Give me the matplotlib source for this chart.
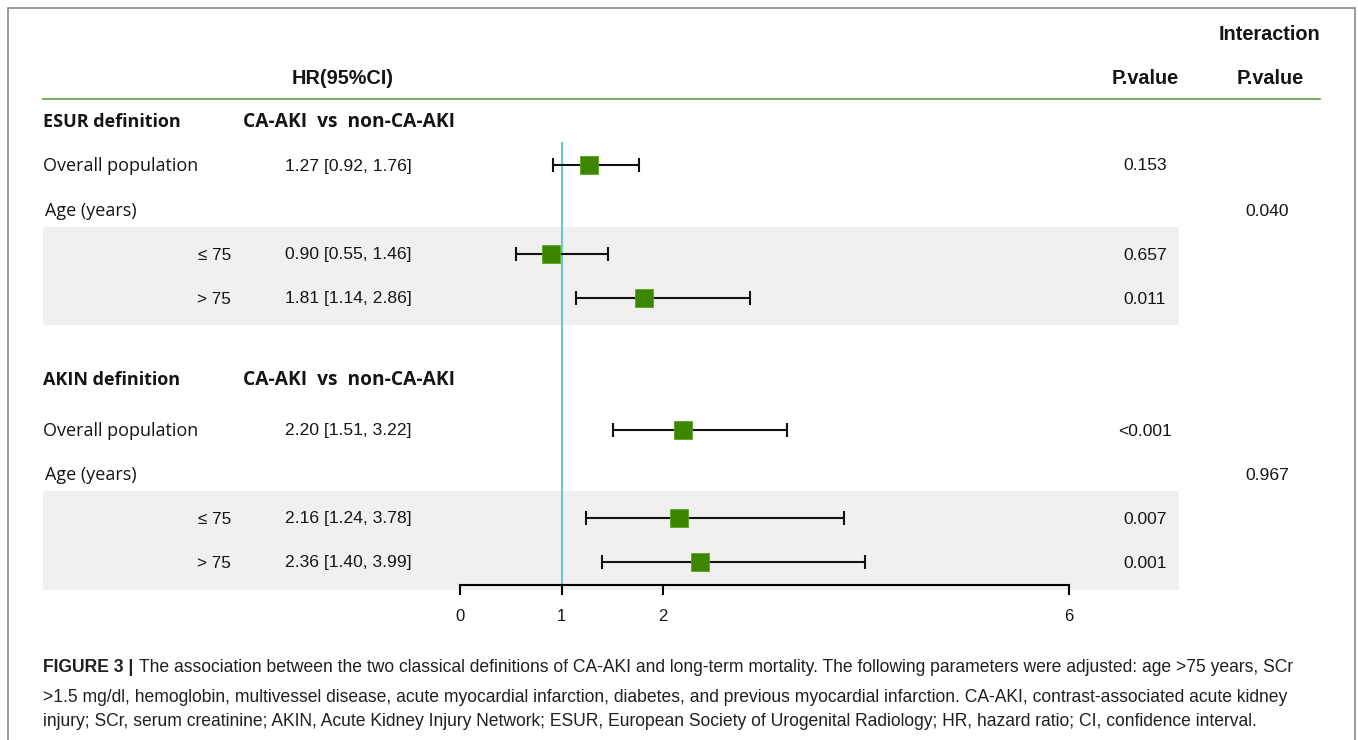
import matplotlib
matplotlib.use("Agg")
import matplotlib.pyplot as plt

# ---- data ----
row_labels = ["Overall population", "Age (years)", "≤ 75", "> 75"]
group_titles = ["ESUR definition", "AKIN definition"]
comparison = "CA-AKI  vs  non-CA-AKI"

hr = [[1.27, None, 0.90, 1.81], [2.20, None, 2.16, 2.36]]
ci_low = [[0.92, None, 0.55, 1.14], [1.51, None, 1.24, 1.40]]
ci_high = [[1.76, None, 1.46, 2.86], [3.22, None, 3.78, 3.99]]
p_values = [["0.153", "", "0.657", "0.011"], ["<0.001", "", "0.007", "0.001"]]
p_interaction = ["0.040", "0.967"]
x_ticks = [0, 1, 2, 6]

caption_bold = "FIGURE 3 |"
caption_lines = [
    "The association between the two classical definitions of CA-AKI and long-term mortality. The following parameters were adjusted: age >75 years, SCr",
    ">1.5 mg/dl, hemoglobin, multivessel disease, acute myocardial infarction, diabetes, and previous myocardial infarction. CA-AKI, contrast-associated acute kidney",
    "injury; SCr, serum creatinine; AKIN, Acute Kidney Injury Network; ESUR, European Society of Urogenital Radiology; HR, hazard ratio; CI, confidence interval.",
]

# ---- layout (pixels) ----
W, H = 1358, 740
group_top = [121, 379]
row_offsets = [44, 89, 133, 177]
row_offsets_akin = [51, 95, 139, 183]
band_spans = [(227, 325), (491, 590)]
LABEL_FONT = ["Open Sans", "DejaVu Sans"]
NUM_FONT = ["Liberation Sans", "DejaVu Sans"]
CAP_FONT = ["Liberation Sans Narrow", "Liberation Sans", "DejaVu Sans"]
GREEN = "#3d8700"
TXT = "#151515"

fig = plt.figure(figsize=(W / 100, H / 100), dpi=100)
ax_bg = fig.add_axes([0, 0, 1, 1])
ax_bg.set_xlim(0, W)
ax_bg.set_ylim(H, 0)
ax_bg.axis("off")

# frame
ax_bg.plot([8, 8, 1355, 1355], [H + 5, 8, 8, H + 5], color="#8a8a8a", lw=1.2,
           solid_joinstyle="miter")

# shaded bands for the age subgroups
for y0, y1 in band_spans:
    ax_bg.axhspan(y0, y1, xmin=43 / W, xmax=1179 / W, color="#f0f0f0", lw=0, zorder=0)

# header
head_kw = dict(ha="center", va="center", fontsize=14.3, fontweight="bold",
               family=NUM_FONT, color=TXT)
ax_bg.text(1270, 34, "Interaction", **head_kw)
ax_bg.text(343, 79, "HR(95%CI)", **head_kw)
ax_bg.text(1145, 79, "P.value", **head_kw)
ax_bg.text(1270, 79, "P.value", **head_kw)
ax_bg.plot([43, 1320], [99, 99], color="#5f9e35", lw=1.2)

row_ys = []
for g, title in enumerate(group_titles):
    y0 = group_top[g] + 1
    offs = row_offsets if g == 0 else row_offsets_akin
    ax_bg.text(43, y0, title, ha="left", va="center", fontsize=13,
               fontweight="bold", family=LABEL_FONT, color=TXT)
    ax_bg.text(243, y0, comparison, ha="left", va="center", fontsize=13.8,
               fontweight="bold", family=LABEL_FONT, color=TXT)
    ys = [y0 + o for o in offs]
    row_ys.append(ys)
    for i, lab in enumerate(row_labels):
        y = ys[i]
        if i < 2:
            ax_bg.text(43 if i == 0 else 45, y, lab, ha="left", va="center",
                       fontsize=13, family=LABEL_FONT, color=TXT)
        else:
            ax_bg.text(231, y, lab, ha="right", va="center", fontsize=12.3,
                       family=NUM_FONT, color=TXT)
        if hr[g][i] is not None:
            ax_bg.text(285, y, f"{hr[g][i]:.2f} [{ci_low[g][i]:.2f}, {ci_high[g][i]:.2f}]",
                       ha="left", va="center", fontsize=12.6, family=NUM_FONT, color=TXT)
            ax_bg.text(1145, y, p_values[g][i], ha="center", va="center",
                       fontsize=12.6, family=NUM_FONT, color=TXT)
    ax_bg.text(1267, ys[1], p_interaction[g], ha="center", va="center",
               fontsize=12.6, family=NUM_FONT, color=TXT)

# ---- forest panel ----
x0_px, x6_px, top_px, bot_px = 460, 1069, 142, 585
ax = fig.add_axes([x0_px / W, 1 - bot_px / H, (x6_px - x0_px) / W, (bot_px - top_px) / H])
ax.patch.set_visible(False)
ax.set_xlim(0, 6)
ax.set_ylim(bot_px, top_px)
for side in ["top", "right", "left"]:
    ax.spines[side].set_visible(False)
ax.spines["bottom"].set_linewidth(1.5)
ax.set_yticks([])
ax.set_xticks(x_ticks)
ax.set_xticklabels([str(t) for t in x_ticks], family=NUM_FONT, fontsize=12, color=TXT)
ax.tick_params(axis="x", direction="out", length=7.5, width=1.5, pad=10)

ax.axvline(1, color="#6cc5cf", lw=1.5, zorder=1)

for g in range(2):
    for i in range(len(row_labels)):
        if hr[g][i] is None:
            continue
        y = row_ys[g][i] - 1
        ax.errorbar(hr[g][i], y,
                    xerr=[[hr[g][i] - ci_low[g][i]], [ci_high[g][i] - hr[g][i]]],
                    fmt="none", ecolor="#111111", elinewidth=1.5, capsize=5,
                    capthick=1.5, zorder=2, clip_on=False)
        ax.plot(hr[g][i], y, marker="s", markersize=13.5, color=GREEN,
                markeredgecolor="#59a51e", markeredgewidth=0.6, zorder=3,
                clip_on=False)

# ---- caption ----
cap_y = [668, 697, 722]
cap_size = 12.65
bold = ax_bg.text(43, cap_y[0], caption_bold, ha="left", va="center", fontsize=cap_size,
                  fontweight="bold", family=CAP_FONT, color="#231f20")
ax_bg.annotate(caption_lines[0], xy=(1, 0.5), xycoords=bold, xytext=(4, 0),
               textcoords="offset points", ha="left", va="center", fontsize=cap_size,
               family=CAP_FONT, color="#231f20")
for k in (1, 2):
    ax_bg.text(43, cap_y[k], caption_lines[k], ha="left", va="center", fontsize=cap_size,
               family=CAP_FONT, color="#231f20")

fig.savefig("out.png", dpi=100)
